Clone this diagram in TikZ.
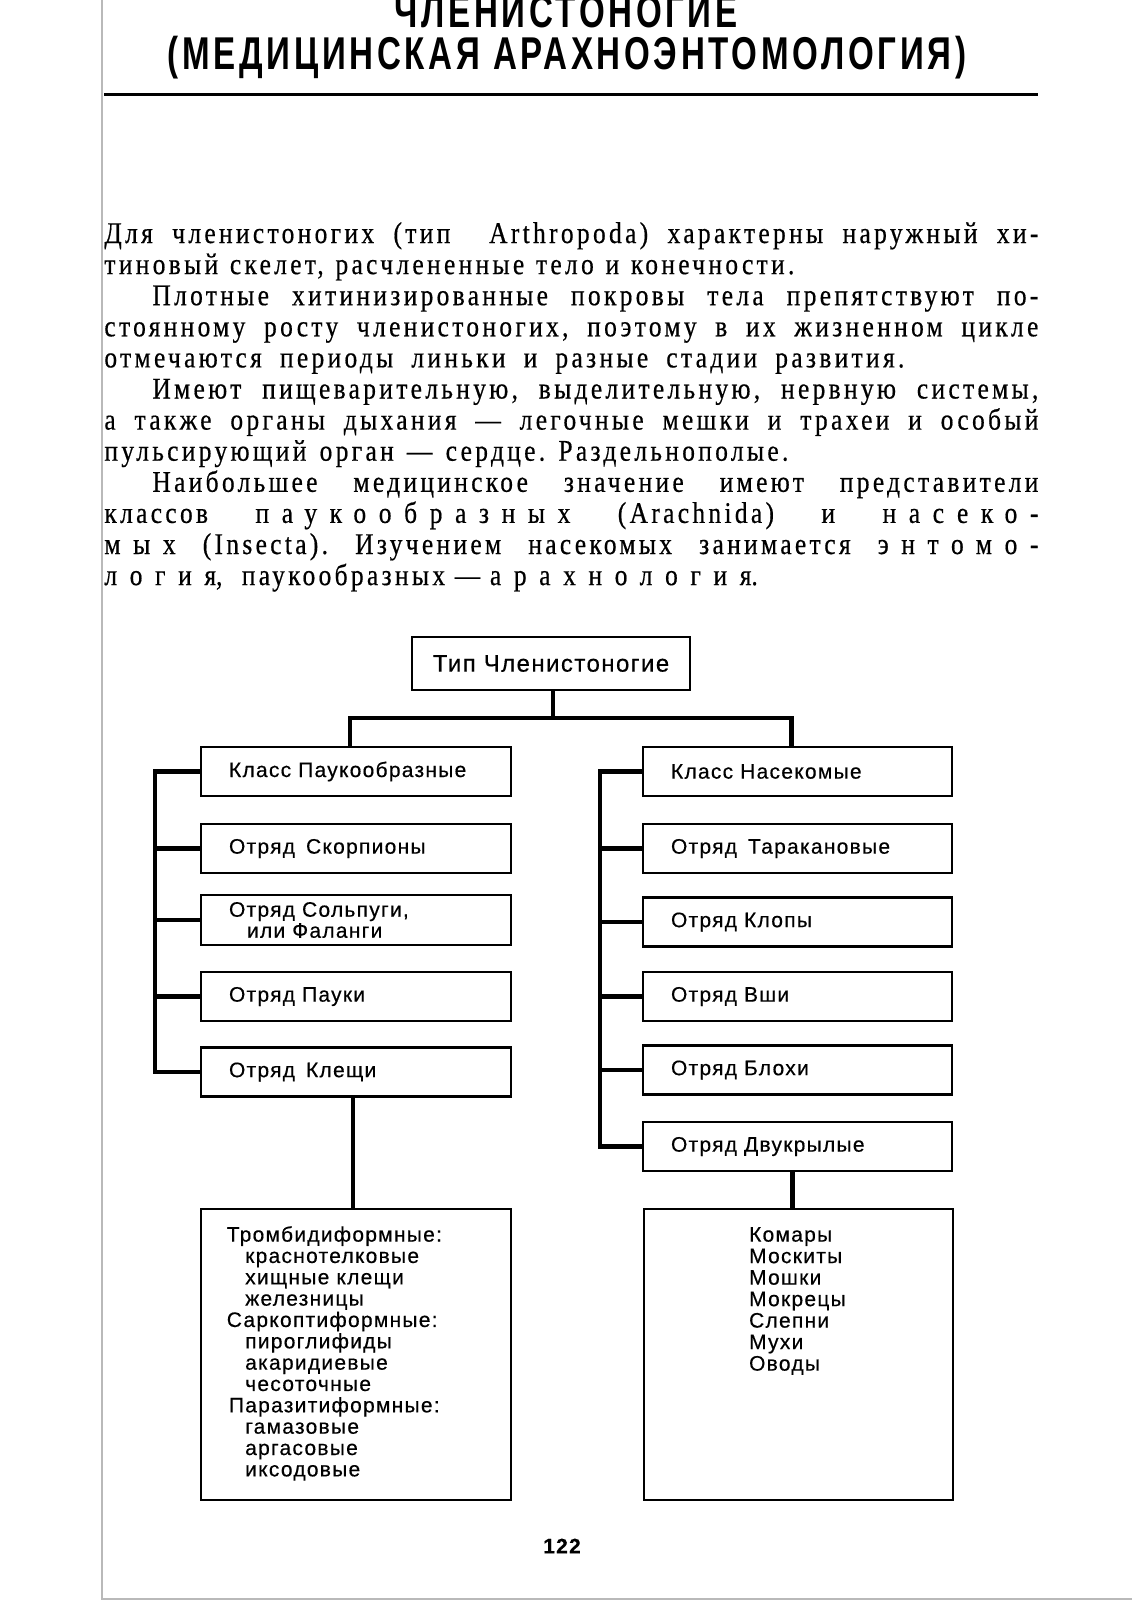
\documentclass[tikz,border=0pt]{standalone}
\usepackage{fontspec}
\setmainfont{Liberation Serif}
\newfontfamily\bodyfont{Liberation Serif}[FakeStretch=0.85,LetterSpace=11,FakeBold=0.5]
\newfontfamily\diafont{Liberation Sans}[LetterSpace=6,FakeBold=0.4]
\newfontfamily\titlefont{Liberation Sans}[FakeStretch=0.72,LetterSpace=8]
\newcommand\razr[1]{{\addfontfeature{LetterSpace=42}#1}}
\newcommand\fl[1]{\makebox[467pt][s]{#1}}
\newcommand\il[1]{\makebox[443pt][s]{#1}}
\newcommand\wl[2]{\makebox[#1pt][s]{#2}}
\tikzset{
  bline/.style={anchor=base west, inner sep=0pt, font=\bodyfont\fontsize{15}{16}\selectfont},
  box/.style={draw, line width=1.2pt, minimum height=24.5pt, inner xsep=14pt, inner ysep=0pt,
              align=left, font=\diafont\fontsize{10.5}{10.5}\selectfont},
  lbox/.style={box, text width=127pt},
  rbox/.style={box, text width=126.5pt},
  bigbox/.style={draw, line width=1.2pt, minimum height=145.5pt, inner sep=0pt},
  conn/.style={line width=2.2pt},
  item/.style={anchor=base west, inner sep=0pt, font=\diafont\fontsize{10.5}{11}\selectfont},
  ttl/.style={anchor=base, inner sep=0pt, font=\titlefont\bfseries\fontsize{23}{26}\selectfont},
}
\begin{document}
\frenchspacing
\begin{tikzpicture}[x=0.5pt,y=-0.5pt]
\useasboundingbox (0,0) rectangle (1132,1600);
\clip (0,0) rectangle (1132,1600);
\fill[white] (0,0) rectangle (1132,1600);
% page edges of the scan
\draw[gray!55, line width=0.7pt] (102,0) -- (102,1599) -- (1132,1599);

% title
\node[ttl] (t1) at (566,28) {ЧЛЕНИСТОНОГИЕ};
\node[ttl] (t2) at (567,70) {(МЕДИЦИНСКАЯ АРАХНОЭНТОМОЛОГИЯ)};
\draw[line width=1.5pt] (104,95) -- (1038,95);

% body text
\node[bline] (l1) at (104,243.0) {\fl{Для членистоногих (тип\ \ Arthropoda) характерны наружный хи-}};
\node[bline] (l2) at (104,274.1) {\wl{345}{тиновый скелет, расчлененные тело и конечности.}};
\node[bline] (l3) at (152,305.2) {\il{Плотные хитинизированные покровы тела препятствуют по-}};
\node[bline] (l4) at (104,336.3) {\fl{стоянному росту членистоногих, поэтому в их жизненном цикле}};
\node[bline] (l5) at (104,367.4) {\wl{400}{отмечаются периоды линьки и разные стадии развития.}};
\node[bline] (l6) at (152,398.5) {\il{Имеют пищеварительную, выделительную, нервную системы,}};
\node[bline] (l7) at (104,429.6) {\fl{а также органы дыхания~— легочные мешки и трахеи и особый}};
\node[bline] (l8) at (104,460.7) {\wl{342}{пульсирующий орган — сердце. Раздельнополые.}};
\node[bline] (l9) at (152,491.8) {\il{Наибольшее медицинское значение имеют представители}};
\node[bline] (l10) at (104,522.9) {\fl{классов \razr{паукообразных} (Arachnida) и \razr{насеко-}}};
\node[bline] (l11) at (104,554.0) {\fl{\razr{мых} (Insecta). Изучением насекомых занимается \razr{энтомо-}}};
\node[bline] (l12) at (104,585.1) {\razr{логия},\ \ паукообразных~— \razr{арахнология}.};

% diagram
\node[box, align=center, text width=130pt, inner xsep=4.5pt, minimum height=26.5pt,
      font=\diafont\fontsize{12}{12}\selectfont] (top) at (551,663.5) {Тип Членистоногие};

\node[lbox] (lc) at (356,771.5) {Класс Паукообразные};
\node[lbox] (ls) at (356,848.5) {Отряд\hspace{2pt} Скорпионы};
\node[lbox, minimum height=25pt] (lf) at (356,920) {Отряд Сольпуги,\\\hspace*{9pt}или Фаланги};
\node[lbox] (lp) at (356,996.5) {Отряд Пауки};
\node[lbox] (lk) at (356,1072) {Отряд\hspace{2pt} Клещи};

\node[rbox] (rc) at (797.5,771.5) {Класс Насекомые};
\node[rbox] (rt) at (797.5,848.5) {Отряд\hspace{2pt} Таракановые};
\node[rbox] (rk) at (797.5,922) {Отряд Клопы};
\node[rbox] (rv) at (797.5,996.5) {Отряд Вши};
\node[rbox] (rb) at (797.5,1070) {Отряд Блохи};
\node[rbox] (rd) at (797.5,1146.5) {Отряд Двукрылые};

\node[bigbox, minimum width=155pt] (lbot) at (356,1354.5) {};
\node[bigbox, minimum width=154.5pt] (rbot) at (798.5,1354.5) {};

% connectors
\coordinate (jt) at (553,718);
\coordinate (jl) at (350,718);
\coordinate (jr) at (791.5,718);
\draw[conn] (top.south -| jt) -- (jt);
\draw[conn] (lc.north -| jl) -- (jl) -- (jr) -- (rc.north -| jr);

\coordinate (bl) at (155,0);
\draw[conn] (lc.west) -- (lc.west -| bl) -- (lk.west -| bl) -- (lk.west);
\foreach \n in {ls,lf,lp} \draw[conn] (\n.west) -- (\n.west -| bl);

\coordinate (br) at (600,0);
\draw[conn] (rc.west) -- (rc.west -| br) -- (rd.west -| br) -- (rd.west);
\foreach \n in {rt,rk,rv,rb} \draw[conn] (\n.west) -- (\n.west -| br);

\coordinate (vl) at (353,0);
\coordinate (vr) at (792.5,0);
\draw[conn] (lk.south -| vl) -- (lbot.north -| vl);
\draw[conn] (rd.south -| vr) -- (rbot.north -| vr);

% lists
\foreach \xx/\txt [count=\k] in {226.4/Тромбидиформные:, 244.8/краснотелковые, 244.8/хищные клещи,
   244.8/железницы, 226.4/Саркоптиформные:, 244.8/пироглифиды, 244.8/акаридиевые, 244.8/чесоточные,
   228.5/Паразитиформные:, 244.8/гамазовые, 244.8/аргасовые, 244.8/иксодовые}
  \node[item] (tl\k) at ({\xx},{1241.6+21.34*(\k-1)}) {\txt};
\foreach \txt [count=\k] in {Комары, Москиты, Мошки, Мокрецы, Слепни, Мухи, Оводы}
  \node[item] (tr\k) at (748.7,{1241.6+21.5*(\k-1)}) {\txt};

\node[inner sep=0pt, font=\diafont\bfseries\fontsize{10.5}{12}\selectfont] (pg) at (562,1546) {122};
\end{tikzpicture}
\end{document}
